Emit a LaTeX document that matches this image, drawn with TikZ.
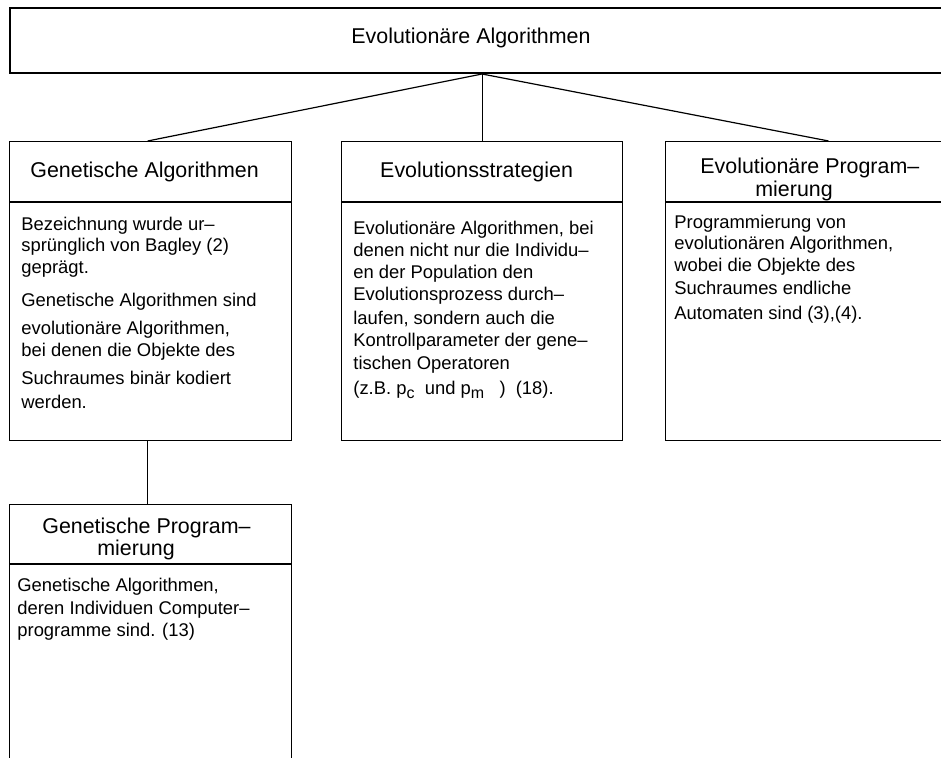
\documentclass[tikz,border=0pt]{standalone}
\usepackage{fontspec}
\setmainfont{Liberation Sans}
\usetikzlibrary{positioning}

\newcommand{\tief}[1]{\raisebox{-0.45ex}{\fontsize{8}{8}\selectfont #1}}

\begin{document}
\begin{tikzpicture}[x=0.5pt, y=-0.5pt,
    kasten/.style = {draw, line width=0.6pt, minimum height=30pt, inner sep=0pt},
    kopf/.style = {kasten, anchor=north west},
    rumpf/.style = {kasten, minimum height=119pt},
    kopftext/.style = {inner sep=0pt, align=left, font=\fontsize{10.7}{11.5}\selectfont},
    inhalt/.style = {inner sep=0pt, align=left, font=\fontsize{9.2}{10.5}\selectfont},
    trenn/.style = {line width=1pt},
    linie/.style = {line width=0.6pt}]
    \path[use as bounding box, fill=white] (0,0) rectangle (941,758);
    \clip (0,0) rectangle (941,758);

    % oberster Kasten
    \node[kasten, anchor=north west, minimum width=475.5pt, minimum height=32.25pt, line width=1pt] (ea) at (9,7.5) {};
    \node[kopftext] (ea-titel) at (471,38) {Evolutionäre Algorithmen};

    % die drei Zweige
    \node[kopf, minimum width=141pt] (ga-kopf) at (9,141) {};
    \node[rumpf, minimum width=141pt, below=0pt of ga-kopf] (ga-rumpf) {};
    \node[kopf, minimum width=140.5pt] (es-kopf) at (341,141) {};
    \node[rumpf, minimum width=140.5pt, below=0pt of es-kopf] (es-rumpf) {};
    \node[kopf, minimum width=141pt] (ep-kopf) at (665,141) {};
    \node[rumpf, minimum width=141pt, below=0pt of ep-kopf] (ep-rumpf) {};

    % Unterzweig
    \node[kopf, minimum width=141pt, minimum height=29.5pt] (gp-kopf) at (9,504) {};
    \node[rumpf, minimum width=141pt, minimum height=113.5pt, below=0pt of gp-kopf] (gp-rumpf) {};

    \foreach \k in {ga,es,ep,gp}
        \draw[trenn] (\k-kopf.south west) -- (\k-kopf.south east);

    % Verbindungen
    \coordinate (spitze) at (es-kopf.north |- ea.south);
    \draw[linie] (spitze) -- ([xshift=-1.5pt]ga-kopf.north);
    \draw[linie] (spitze) -- (es-kopf.north);
    \draw[linie] (spitze) -- ([xshift=11pt]ep-kopf.north);
    \draw[linie] ([xshift=-1.5pt]ga-rumpf.south) -- ([xshift=-1.5pt]gp-kopf.north);

    % Ueberschriften
    \node[kopftext] (ga-titel) at ([xshift=-3pt]ga-kopf.center) {Genetische Algorithmen};
    \node[kopftext] (es-titel) at ([xshift=-2.75pt]es-kopf.center) {Evolutionsstrategien};
    \node[kopftext, below right=8.5pt and 17.5pt of ep-kopf.north west] (ep-titel) {Evolutionäre Program–\\
        \hspace*{27.5pt}mierung};
    \node[kopftext, below right=7pt and 16.5pt of gp-kopf.north west] (gp-titel) {Genetische Program–\\[-0.5pt]
        \hspace*{27.5pt}mierung};

    % Texte
    \node[inhalt, below right=7.25pt and 6pt of ga-rumpf.north west] (ga-text) {Bezeichnung wurde ur–\\
        sprünglich von Bagley (2)\\[0.5pt]
        geprägt.\\[6pt]
        Genetische Algorithmen sind\\[3.5pt]
        evolutionäre Algorithmen,\\[0.5pt]
        bei denen die Objekte des\\[3.5pt]
        Suchraumes binär kodiert\\[1.5pt]
        werden.};
    \node[inhalt, below right=9.25pt and 6pt of es-rumpf.north west] (es-text) {Evolutionäre Algorithmen, bei\\[0.5pt]
        denen nicht nur die Individu–\\[0.5pt]
        en der Population den\\[0.5pt]
        Evolutionsprozess durch–\\[1.5pt]
        laufen, sondern auch die\\[0.5pt]
        Kontrollparameter der gene–\\[1pt]
        tischen Operatoren\\[2pt]
        (z.B. p\tief{c}\ \ und p\tief{m}\ \ \ ) \ (18).};
    \node[inhalt, below right=6.25pt and 4.5pt of ep-rumpf.north west] (ep-text) {Programmierung von\\
        evolutionären Algorithmen,\\[0.5pt]
        wobei die Objekte des\\[1pt]
        Suchraumes endliche\\[2pt]
        Automaten sind (3),(4).};
    \node[inhalt, below right=6.75pt and 4pt of gp-rumpf.north west] (gp-text) {Genetische Algorithmen,\\[1pt]
        deren Individuen Computer–\\[0.5pt]
        programme sind. (13)};
\end{tikzpicture}
\end{document}
